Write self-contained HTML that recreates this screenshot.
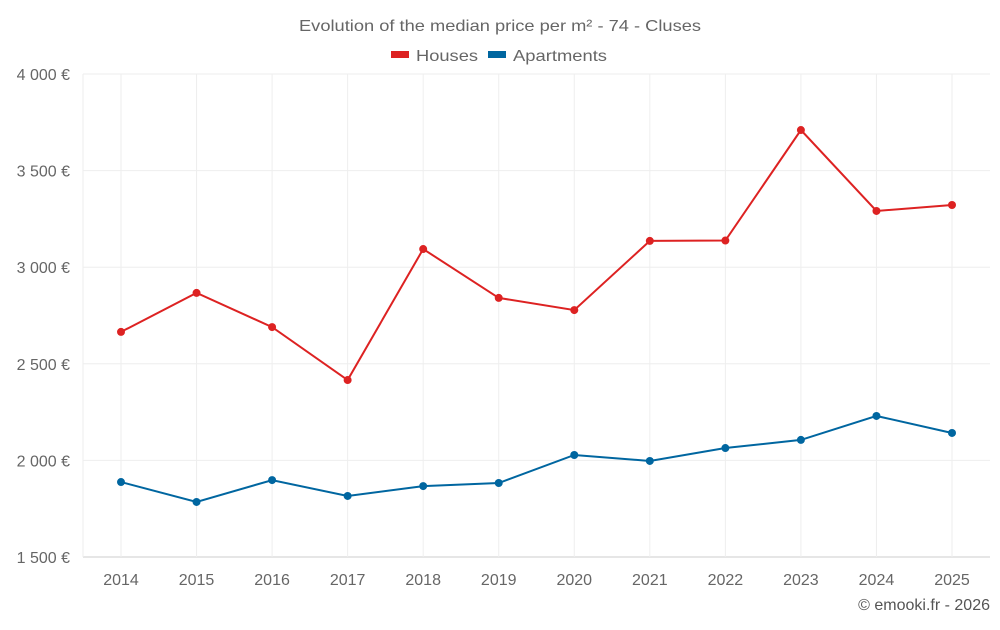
<!DOCTYPE html>
<html><head><meta charset="utf-8"><style>
body{margin:0;background:#fff;font-family:"Liberation Sans",Roboto,sans-serif;}
svg text{font-family:"Liberation Sans",sans-serif;}
</style></head><body>
<svg id="c" width="1000" height="625">
<text x="500" y="31" text-anchor="middle" font-size="16" fill="#666" textLength="402" lengthAdjust="spacingAndGlyphs">Evolution of the median price per m² - 74 - Cluses</text>
<g>
<g><rect x="391" y="51" width="18" height="7" fill="#dd2222"/><text x="416" y="61" font-size="16" fill="#666" textLength="62" lengthAdjust="spacingAndGlyphs">Houses</text></g>
<g><rect x="488" y="51" width="18" height="7" fill="#0066a0"/><text x="513" y="61" font-size="16" fill="#666" textLength="94" lengthAdjust="spacingAndGlyphs">Apartments</text></g>
</g>
<g id="grid"></g><g id="series"></g>
<text x="990" y="610" text-anchor="end" font-size="16" fill="#555">© emooki.fr - 2026</text>
</svg>
<script>
const years=["2014","2015","2016","2017","2018","2019","2020","2021","2022","2023","2024","2025"];
const houses=[2665,2867,2690,2416,3094,2841,2778,3136,3138,3710,3291,3322];
const apartments=[1888,1785,1898,1816,1867,1883,2028,1997,2064,2106,2230,2142];
const yTicks=[1500,2000,2500,3000,3500,4000];
const yTickLabels=["1 500 €","2 000 €","2 500 €","3 000 €","3 500 €","4 000 €"];
const NS="http://www.w3.org/2000/svg";
const L=83,R=990,T=74,B=557;
const x=i=>121+i*(952-121)/(years.length-1);
const y=v=>B-(v-1500)/2500*(B-T);
function mk(t,a,p){const e=document.createElementNS(NS,t);for(const k in a)e.setAttribute(k,a[k]);p.appendChild(e);return e;}
const g=document.getElementById('grid'),s=document.getElementById('series');
yTicks.forEach((v,i)=>{
 const ln=mk('line',{x1:L,x2:R,y1:y(v),y2:y(v),stroke:i==0?'#ccc':'#eee'},g);
 
 
 const t=mk('text',{x:70,y:y(v)+6,'text-anchor':'end','font-size':16,fill:'#666'},g);t.textContent=yTickLabels[i];
 
 
});
mk('line',{x1:L,x2:L,y1:T,y2:B,stroke:'#eee'},g);
years.forEach((yr,i)=>{
 const ln=mk('line',{x1:x(i),x2:x(i),y1:T,y2:B,stroke:'#eee'},g);
 
 
 const t=mk('text',{x:x(i),y:585,'text-anchor':'middle','font-size':16,fill:'#666'},g);t.textContent=yr;
 
 
});
[[houses,'#dd2222','houses'],[apartments,'#0066a0','apartments']].forEach(([d,c,n])=>{
 const p=mk('polyline',{points:d.map((v,i)=>x(i)+','+y(v)).join(' '),fill:'none',stroke:c,'stroke-width':2},s);
 
 
 d.forEach((v,i)=>{const ci=mk('circle',{cx:x(i),cy:y(v),r:4,fill:c},s);
  
  });
});
</script>
</body></html>
